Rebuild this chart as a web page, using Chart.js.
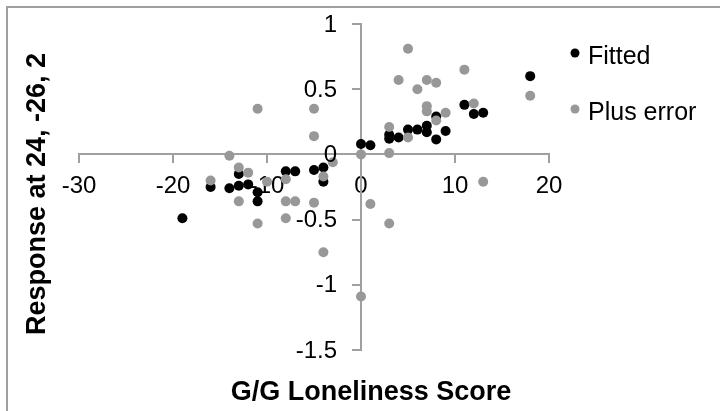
<!DOCTYPE html>
<html>
<head>
<meta charset="utf-8">
<script src="https://cdn.jsdelivr.net/npm/chart.js@4.4.1/dist/chart.umd.min.js"></script>
<style>
  html, body { margin: 0; padding: 0; background: #fff; }
  #wrap { position: relative; width: 720px; height: 411px; }
</style>
</head>
<body>
<div id="wrap"><canvas id="chart" width="720" height="411"></canvas></div>
<script>
// values
const seriesNames = ['Fitted', 'Plus error'];
const fittedX = [-19, -16, -14, -13, -13, -12, -11, -11, -8, -7, -5, -4, -4, 0, 1, 3, 3, 4, 5, 6, 7, 7, 8, 8, 9, 11, 12, 13, 18];
const fittedY = [-0.49, -0.25, -0.26, -0.24, -0.15, -0.23, -0.29, -0.36, -0.13, -0.13, -0.12, -0.10, -0.21, 0.08, 0.07, 0.15, 0.12, 0.13, 0.19, 0.19, 0.22, 0.17, 0.29, 0.115, 0.18, 0.38, 0.31, 0.32, 0.60];
const errorX = [-16, -14, -13, -13, -12, -11, -11, -10, -8, -8, -8, -7, -5, -5, -5, -4, -4, -3, 0, 0, 1, 3, 3, 3, 4, 5, 5, 6, 7, 7, 7, 8, 8, 9, 11, 12, 13, 18];
const errorY = [-0.20, -0.01, -0.10, -0.36, -0.14, 0.35, -0.53, -0.21, -0.19, -0.36, -0.49, -0.36, 0.35, 0.14, -0.37, -0.17, -0.75, -0.06, 0.00, -1.09, -0.38, 0.21, 0.01, -0.53, 0.57, 0.81, 0.13, 0.50, 0.57, 0.37, 0.33, 0.55, 0.26, 0.32, 0.65, 0.39, -0.21, 0.45];
const xTicks = [-30, -20, -10, 0, 10, 20];
const yTicks = [-1.5, -1, -0.5, 0, 0.5, 1];
const xTitle = 'G/G Loneliness Score';
const yTitle = 'Response at 24, -26, 2';

const toPoints = (xs, ys) => xs.map((x, i) => ({ x, y: ys[i] }));
const axisGray = '#a0a0a0';
const fontFamily = 'Liberation Sans, Arial, sans-serif';
const tickFont = { family: fontFamily, size: 24 };

// outer frame, y tick labels, axis titles and legend
const decorations = {
  id: 'decorations',
  beforeDraw(chart) {
    const ctx = chart.ctx;
    ctx.save();
    ctx.strokeStyle = axisGray;
    ctx.lineWidth = 2;
    ctx.strokeRect(7, 7, 760, 460);
    ctx.restore();
  },
  afterDraw(chart) {
    const ctx = chart.ctx;
    const xs = chart.scales.x, ys = chart.scales.y;

    // y labels sit left of the crossing axis (Chart.js puts them on the line)
    ctx.save();
    ctx.fillStyle = '#000';
    ctx.font = `24px ${fontFamily}`;
    ctx.textAlign = 'right';
    ctx.textBaseline = 'middle';
    const axisX = xs.getPixelForValue(0);
    ys.ticks.forEach(t => {
      ctx.fillText(String(t.value), axisX - 24, ys.getPixelForValue(t.value) + 1);
    });
    ctx.restore();

    ctx.save();
    ctx.fillStyle = '#000';
    ctx.font = `bold 27px ${fontFamily}`;
    ctx.textAlign = 'center';
    ctx.textBaseline = 'middle';
    ctx.fillText(xTitle, 371, 393);
    ctx.translate(38, 194);
    ctx.rotate(-Math.PI / 2);
    ctx.fillText(yTitle, 0, 0);
    ctx.restore();

    ctx.save();
    ctx.font = `25px ${fontFamily}`;
    ctx.textAlign = 'left';
    ctx.textBaseline = 'middle';
    chart.data.datasets.forEach((ds, i) => {
      const y = 55 + i * 56;
      ctx.fillStyle = ds.backgroundColor;
      ctx.beginPath();
      ctx.arc(575, y - 2, 4.5, 0, Math.PI * 2);
      ctx.fill();
      ctx.fillStyle = '#000';
      ctx.fillText(ds.label, 588, y + 2);
    });
    ctx.restore();
  }
};

new Chart(document.getElementById('chart'), {
  type: 'scatter',
  data: {
    datasets: [
      {
        label: seriesNames[0],
        data: toPoints(fittedX, fittedY),
        backgroundColor: '#000000',
        borderWidth: 0,
        pointRadius: 5,
        pointHoverRadius: 5,
        order: 2
      },
      {
        label: seriesNames[1],
        data: toPoints(errorX, errorY),
        backgroundColor: '#989898',
        borderWidth: 0,
        pointRadius: 5,
        pointHoverRadius: 5,
        order: 1
      }
    ]
  },
  options: {
    responsive: false,
    animation: false,
    layout: { padding: { left: 79, right: 171, top: 24, bottom: 61 } },
    plugins: {
      legend: { display: false },
      tooltip: { enabled: false }
    },
    scales: {
      x: {
        position: { y: 0 },
        min: xTicks[0],
        max: xTicks[xTicks.length - 1],
        ticks: {
          stepSize: xTicks[1] - xTicks[0],
          color: '#000',
          font: tickFont,
          padding: 10,
          callback: v => String(v)
        },
        grid: { drawOnChartArea: false, drawTicks: true, tickLength: 8, color: axisGray, lineWidth: 2 },
        border: { display: true, color: axisGray, width: 2 }
      },
      y: {
        position: { x: 0 },
        min: yTicks[0],
        max: yTicks[yTicks.length - 1],
        ticks: {
          stepSize: yTicks[1] - yTicks[0],
          display: false
        },
        grid: { drawOnChartArea: false, drawTicks: true, tickLength: 8, color: axisGray, lineWidth: 2 },
        border: { display: true, color: axisGray, width: 2 }
      }
    }
  },
  plugins: [decorations]
});
</script>
</body>
</html>
